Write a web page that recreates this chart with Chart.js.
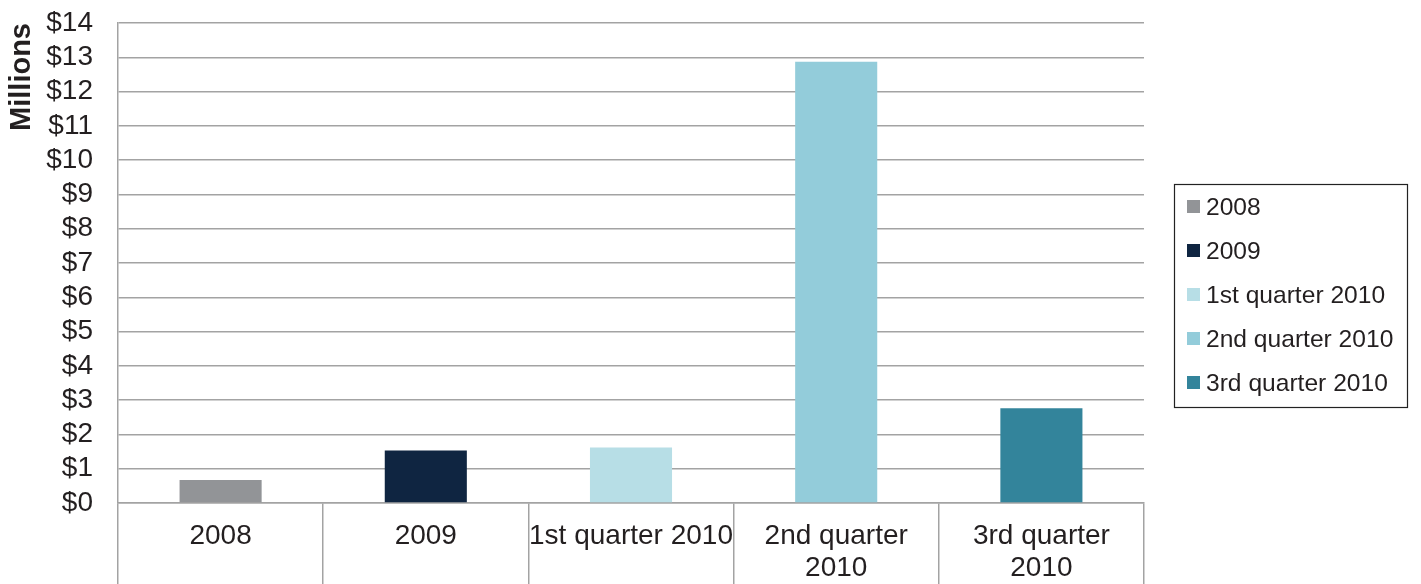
<!DOCTYPE html>
<html><head><meta charset="utf-8">
<script src="https://cdn.jsdelivr.net/npm/chart.js@4.4.0/dist/chart.umd.min.js"></script>
<style>html,body{margin:0;padding:0;background:#fff;}</style>
</head><body>
<canvas id="c" width="1421" height="584"></canvas>
<script>
const categories = [['2008'], ['2009'], ['1st quarter 2010'], ['2nd quarter', '2010'], ['3rd quarter', '2010']];
const legendLabels = ['2008', '2009', '1st quarter 2010', '2nd quarter 2010', '3rd quarter 2010'];
const values = [0.67, 1.53, 1.62, 12.87, 2.76];
const barColors = ['#929497', '#0f2541', '#b7dee6', '#93ccda', '#33849b'];
const yMin = 0, yMax = 14, yStep = 1;
const yTitle = 'Millions';

const FONT = "'Liberation Sans', Arial, sans-serif";
const TEXT = '#231f20';
const GRID = '#a3a3a3';

const boxLegend = {
  id: 'boxLegend',
  afterDraw(chart) {
    const ctx = chart.ctx;
    const area = chart.chartArea;
    const x0 = area.right + 30, w = 233, rowH = 44;
    const h = rowH * legendLabels.length + 3;
    const y0 = Math.round(chart.height / 2 - h / 2 + 3);
    ctx.save();
    ctx.strokeStyle = '#222';
    ctx.lineWidth = 1.2;
    ctx.strokeRect(x0 + 0.5, y0 + 0.5, w, h);
    ctx.font = '24.6px ' + FONT;
    ctx.textBaseline = 'middle';
    ctx.textAlign = 'left';
    legendLabels.forEach((lab, i) => {
      const cy = y0 + 23 + i * rowH;
      ctx.fillStyle = barColors[i];
      ctx.fillRect(x0 + 13, cy - 7, 13, 13);
      ctx.fillStyle = TEXT;
      ctx.fillText(lab, x0 + 32, cy + 1);
    });
    ctx.restore();
  }
};

new Chart(document.getElementById('c'), {
  type: 'bar',
  data: {
    labels: categories,
    datasets: [{
      label: 'Value',
      data: values,
      backgroundColor: barColors,
      borderWidth: 0,
      categoryPercentage: 0.8,
      barPercentage: 0.5
    }]
  },
  options: {
    responsive: false,
    animation: false,
    devicePixelRatio: 1,
    layout: { padding: { left: 0, right: 277, top: 23, bottom: 0 } },
    plugins: { legend: { display: false }, tooltip: { enabled: false } },
    scales: {
      x: {
        offset: true,
        grid: { display: true, drawOnChartArea: false, drawTicks: true, tickLength: 81, color: GRID, lineWidth: 1.5 },
        border: { display: true, color: GRID, width: 1.5 },
        ticks: { color: TEXT, font: { family: FONT, size: 28, lineHeight: 1.15 }, padding: -64, maxRotation: 0, autoSkip: false },
        afterFit(s) { s.height = 81; s.paddingLeft = 0; s.paddingRight = 0; }
      },
      y: {
        min: yMin, max: yMax,
        grid: { color: GRID, lineWidth: 1.5, drawTicks: false },
        border: { display: true, color: GRID, width: 1.5 },
        ticks: { stepSize: yStep, autoSkip: false, color: TEXT, padding: 25, font: { family: FONT, size: 28 }, callback: v => '$' + v },
        title: { display: true, text: yTitle, align: 'end', color: TEXT, font: { family: FONT, size: 29, weight: 'bold' }, padding: { top: 5, bottom: 0 } },
        afterFit(s) { s.width = 118; s.paddingTop = 0; s.paddingBottom = 0; }
      }
    }
  },
  plugins: [boxLegend]
});
</script>
</body></html>
